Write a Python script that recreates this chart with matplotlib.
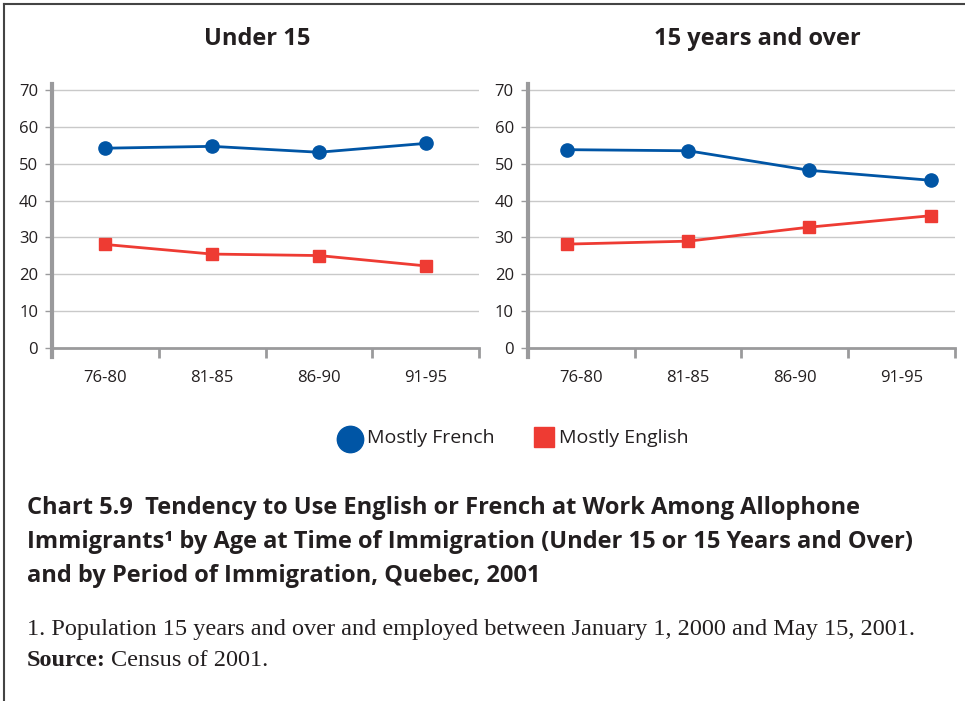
"""Chart 5.9: English or French at work among allophone immigrants, Quebec 2001."""

import matplotlib
matplotlib.use("Agg")
import matplotlib.pyplot as plt
from matplotlib.lines import Line2D
import numpy as np

PERIODS = ["76-80", "81-85", "86-90", "91-95"]

UNDER15_FRENCH = [54.2, 54.7, 53.1, 55.5]
UNDER15_ENGLISH = [28.1, 25.5, 25.1, 22.3]

OVER15_FRENCH = [53.8, 53.5, 48.2, 45.5]
OVER15_ENGLISH = [28.2, 29.0, 32.8, 35.9]

BLUE = "#0055a5"
RED = "#ee3b33"
AXIS_GREY = "#9a9a9c"
GRID_GREY = "#c9c9c9"
TEXT = "#231f20"

SANS = ["Open Sans", "DejaVu Sans"]
SERIF = ["Liberation Serif", "DejaVu Serif"]

W, H = 965, 701


def px_box(x0, y_top, x1, y_bot):
    # pixel box -> figure fraction rect
    return [x0 / W, 1 - y_bot / H, (x1 - x0) / W, (y_bot - y_top) / H]


def panel(fig, rect, french, english, xpos):
    ax = fig.add_axes(rect)
    ax.set_xlim(-0.5, 3.5)
    ax.set_ylim(-2.4, 71.6)
    ax.set_yticks(range(0, 71, 10))
    for v in range(10, 71, 10):
        ax.axhline(v, color=GRID_GREY, lw=1.0, zorder=1)
    ax.plot(xpos, french, color=BLUE, lw=2, marker="o", ms=9.5, zorder=3)
    ax.plot(xpos, english, color=RED, lw=2, marker="s", ms=8.5, zorder=3)

    for side in ("top", "right"):
        ax.spines[side].set_visible(False)
    ax.spines["left"].set_color(AXIS_GREY)
    ax.spines["left"].set_linewidth(3)
    ax.spines["left"].set_zorder(4)
    ax.spines["bottom"].set_position(("data", 0))
    ax.spines["bottom"].set_color(AXIS_GREY)
    ax.spines["bottom"].set_linewidth(2)

    # boundaries get the tick marks, centres get the labels
    ax.set_xticks(np.arange(-0.5, 4.0, 1.0))
    ax.set_xticklabels([])
    ax.set_xticks(np.arange(4), minor=True)
    ax.set_xticklabels(PERIODS, minor=True, fontsize=12, color=TEXT, family=SANS)
    ax.tick_params(axis="x", which="major", direction="out", length=7,
                   width=2, color=AXIS_GREY)
    ax.tick_params(axis="x", which="minor", length=0, pad=16)
    ax.tick_params(axis="y", direction="out", length=5, width=1,
                   color=AXIS_GREY, pad=5, labelsize=12, labelcolor=TEXT)
    for lab in ax.get_yticklabels():
        lab.set_family(SANS)
    return ax


def main():
    fig = plt.figure(figsize=(W / 100, H / 100), dpi=100)

    # frame along top and left edges
    fig.add_artist(Line2D([4 / W, 4 / W], [0, 1 - 4 / H], color="#444444",
                          lw=1.5, transform=fig.transFigure))
    fig.add_artist(Line2D([4 / W, 1], [1 - 4 / H, 1 - 4 / H], color="#444444",
                          lw=1.5, transform=fig.transFigure))

    panel(fig, px_box(52, 84, 479, 357), UNDER15_FRENCH, UNDER15_ENGLISH,
          np.arange(4))
    # right panel markers sit a little wider than the category centres
    xr = 1.57 + (np.arange(4) - 1.5) * 1.135
    panel(fig, px_box(527.7, 84, 955, 357), OVER15_FRENCH, OVER15_ENGLISH, xr)

    fig.text(257 / W, 1 - 39 / H, "Under 15", ha="center", va="center",
             fontsize=17, fontweight="bold", color=TEXT, family=SANS)
    fig.text(757 / W, 1 - 39 / H, "15 years and over", ha="center", va="center",
             fontsize=17, fontweight="bold", color=TEXT, family=SANS)

    # legend drawn by hand to match the spacing of the original
    fig.add_artist(Line2D([350 / W], [1 - 439 / H], marker="o", ms=19,
                          color=BLUE, lw=0, transform=fig.transFigure))
    fig.text(367 / W, 1 - 438 / H, "Mostly French", va="center", ha="left",
             fontsize=14, color=TEXT, family=SANS)
    fig.add_artist(Line2D([544 / W], [1 - 437 / H], marker="s", ms=15,
                          color=RED, lw=0, transform=fig.transFigure))
    fig.text(559 / W, 1 - 438 / H, "Mostly English", va="center", ha="left",
             fontsize=14, color=TEXT, family=SANS)

    caption = [
        "Chart 5.9  Tendency to Use English or French at Work Among Allophone",
        "Immigrants\u00b9 by Age at Time of Immigration (Under 15 or 15 Years and Over)",
        "and by Period of Immigration, Quebec, 2001",
    ]
    for i, line in enumerate(caption):
        fig.text(27 / W, 1 - (508 + 34 * i) / H, line, ha="left", va="center",
                 fontsize=17, fontweight="bold", color=TEXT, family=SANS)

    fig.text(27 / W, 1 - 630 / H,
             "1. Population 15 years and over and employed between January 1, 2000 and May 15, 2001.",
             ha="left", va="center", fontsize=17.5, color=TEXT, family=SERIF)
    src = fig.text(27 / W, 1 - 660 / H, "Source:", ha="left", va="center",
                   fontsize=17.5, fontweight="bold", color=TEXT, family=SERIF)
    fig.canvas.draw()
    bb = src.get_window_extent()
    fig.text(bb.x1 / W + 5 / W, 1 - 660 / H, "Census of 2001.", ha="left",
             va="center", fontsize=17.5, color=TEXT, family=SERIF)

    fig.savefig("out.png", dpi=100)
    plt.close(fig)


if __name__ == "__main__":
    main()
